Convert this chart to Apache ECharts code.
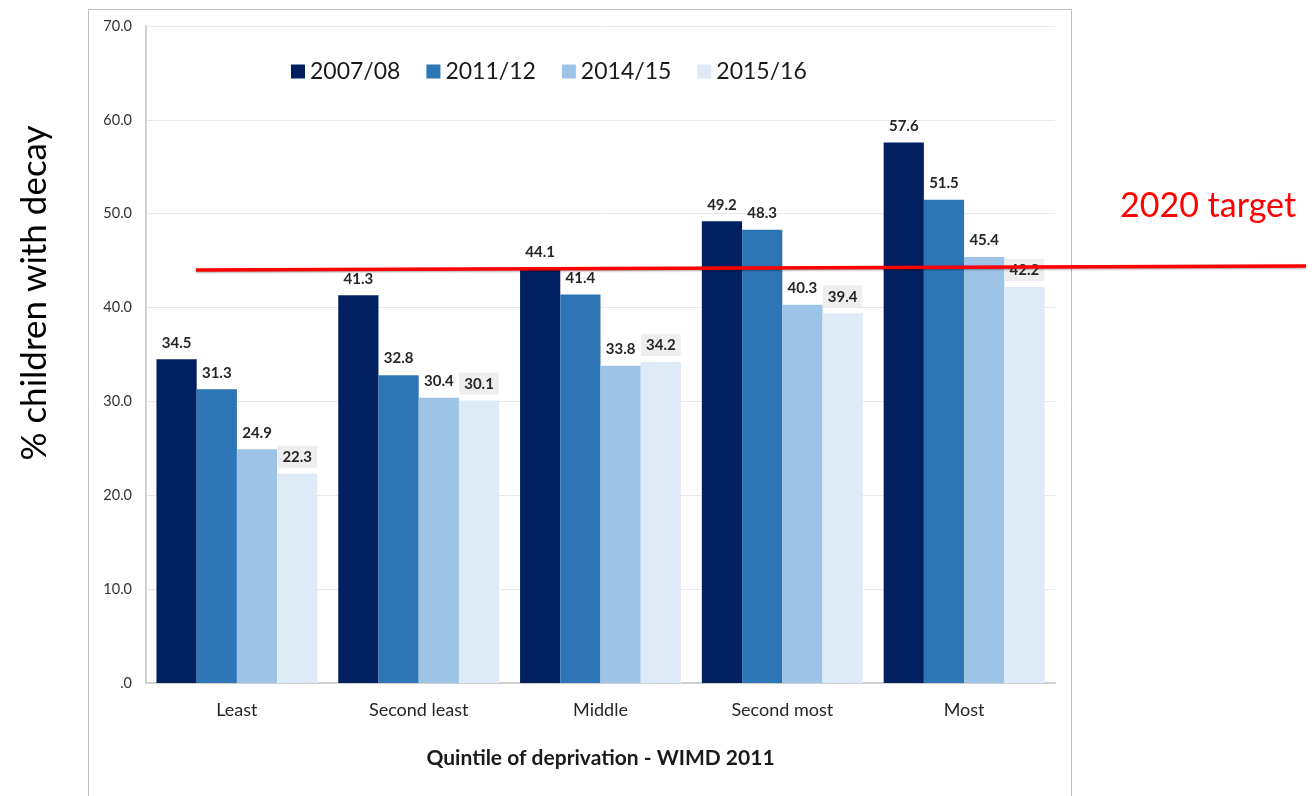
<!DOCTYPE html>
<html><head><meta charset="utf-8">
<script src="https://cdn.jsdelivr.net/npm/echarts@6/dist/echarts.min.js"></script>
<style>html,body{margin:0;padding:0;background:#fff}#c{width:1316px;height:796px}</style>
</head><body><div id="c"></div>
<script>
const categories = ['Least', 'Second least', 'Middle', 'Second most', 'Most'];
const s2007 = [34.5, 41.3, 44.1, 49.2, 57.6];
const s2011 = [31.3, 32.8, 41.4, 48.3, 51.5];
const s2014 = [24.9, 30.4, 33.8, 40.3, 45.4];
const s2015 = [22.3, 30.1, 34.2, 39.4, 42.2];
const seriesNames = ['2007/08', '2011/12', '2014/15', '2015/16'];
const colors = ['#002060', '#2E75B6', '#9DC3E6', '#DEEBF7'];
const yTicks = [0, 10, 20, 30, 40, 50, 60, 70];

const FONT = 'Lato';
const chart = echarts.init(document.getElementById('c'), null, {renderer: 'canvas'});
const data = [s2007, s2011, s2014, s2015];
const series = data.map((d, i) => ({
  name: seriesNames[i],
  type: 'bar',
  data: d,
  barGap: '0%',
  barCategoryGap: '11.5%',
  itemStyle: {color: colors[i]},
  label: {
    show: true, position: 'top', distance: i === 3 ? 6 : 9,
    fontFamily: FONT, fontWeight: 'bold', fontSize: 15, color: '#262626',
    formatter: p => p.value.toFixed(1),
    backgroundColor: i === 3 ? '#eeeeee' : 'transparent',
    padding: i === 3 ? [4, 5, 3, 5] : 0
  }
}));

chart.setOption({
  animation: false,
  textStyle: {fontFamily: FONT},
  grid: {left: 146, right: 261, top: 26, bottom: 113, containLabel: false},
  legend: {
    data: seriesNames, left: 286, top: 55, itemWidth: 14, itemHeight: 14, itemGap: 26,
    icon: 'rect', textStyle: {fontFamily: FONT, fontSize: 23, color: '#1a1a1a'}
  },
  xAxis: {
    type: 'category', data: categories,
    axisLine: {lineStyle: {color: '#d0d0d0', width: 2}},
    axisTick: {show: false},
    axisLabel: {fontFamily: FONT, fontSize: 18, color: '#262626', margin: 18},
    name: 'Quintile of deprivation - WIMD 2011', nameLocation: 'middle', nameGap: 65,
    nameTextStyle: {fontFamily: FONT, fontSize: 21, fontWeight: 'bold', color: '#1a1a1a'}
  },
  yAxis: {
    type: 'value', min: 0, max: 70, interval: 10,
    axisLine: {show: true, lineStyle: {color: '#d0d0d0', width: 2}},
    axisTick: {show: false},
    splitLine: {lineStyle: {color: '#e6e8ee', width: 1}},
    axisLabel: {fontFamily: FONT, fontSize: 14.5, color: '#333', margin: 14,
      formatter: v => v === 0 ? '.0' : v.toFixed(1)}
  },
  series: series,
  graphic: [
    {type: 'rect', shape: {x: 88.5, y: 9.5, width: 983, height: 800}, silent: true, z: -10,
     style: {fill: 'none', stroke: '#bdbdbd', lineWidth: 1}},
    {type: 'text', x: 35, y: 293, rotation: Math.PI / 2, z: 100,
     style: {text: '% children with decay', fill: '#000', font: '35px ' + FONT,
       align: 'center', verticalAlign: 'middle'}},
    {type: 'line', shape: {x1: 196, y1: 270, x2: 1306, y2: 266}, z: 100,
     style: {stroke: '#ff0000', lineWidth: 3.5, shadowBlur: 2, shadowColor: 'rgba(0,0,0,0.35)', shadowOffsetY: 1}},
    {type: 'text', x: 1120, y: 206, z: 100,
     style: {text: '2020 target', fill: '#ff0000', font: '34px ' + FONT, verticalAlign: 'middle'}}
  ]
});
</script></body></html>
